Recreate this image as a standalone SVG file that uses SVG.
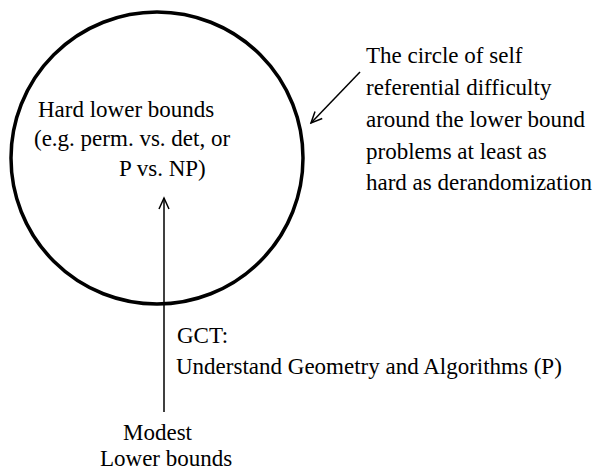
<svg xmlns="http://www.w3.org/2000/svg" width="595" height="472" viewBox="0 0 595 472">
<style>
text{font-family:"Liberation Serif","Times New Roman",serif;font-size:23px;fill:#000}
.c{stroke:#000;stroke-width:1.5;fill:none}
</style>
<defs>
<marker id="ah" markerWidth="14" markerHeight="12" refX="12" refY="6" orient="auto" markerUnits="userSpaceOnUse">
<path d="M1,1 L12,6 L1,11" fill="none" stroke="#000" stroke-width="1.5"/>
</marker>
</defs>
<rect width="595" height="472" fill="#fff"/>
<g id="circle">
<circle cx="157" cy="158" r="146" fill="none" stroke="#000" stroke-width="3.5"/>
<text x="38" y="117">Hard lower bounds</text>
<text x="34" y="146">(e.g. perm. vs. det, or</text>
<text x="119" y="176">P vs. NP)</text>
</g>
<g id="label-circle">
<text x="366" y="63">The circle of self</text>
<text x="366" y="95">referential difficulty</text>
<text x="366" y="127">around the lower bound</text>
<text x="366" y="159">problems at least as</text>
<text x="366" y="190">hard as derandomization</text>
</g>
<g id="gct">
<text x="177" y="343">GCT:</text>
<text x="176" y="374">Understand Geometry and Algorithms (P)</text>
</g>
<g id="modest">
<text x="123" y="440">Modest</text>
<text x="100" y="466">Lower bounds</text>
</g>
<g id="connectors">
<line class="c" x1="164" y1="412" x2="164" y2="198" marker-end="url(#ah)"/>
<line class="c" x1="360" y1="72" x2="311" y2="123" marker-end="url(#ah)"/>
</g>
</svg>
